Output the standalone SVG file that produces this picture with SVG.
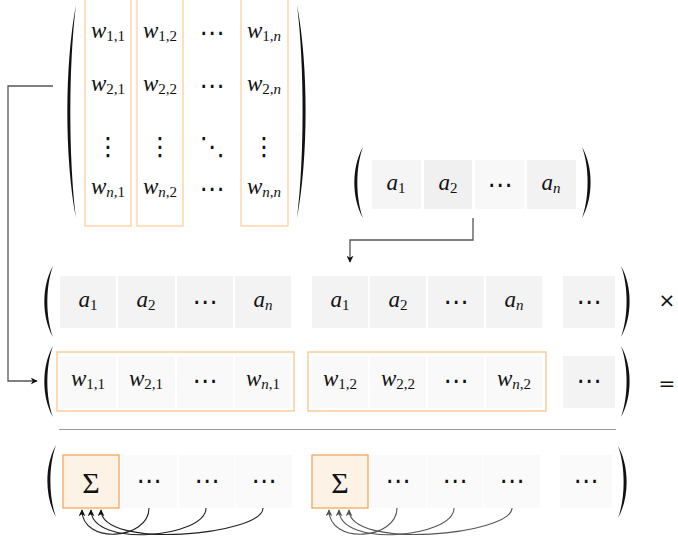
<svg xmlns="http://www.w3.org/2000/svg" xmlns:xlink="http://www.w3.org/1999/xlink" width="678" height="542" viewBox="0 0 678 542">
<style>
.m{font-family:"Liberation Serif","DejaVu Serif",serif;font-style:italic;font-size:23px;fill:#111;text-anchor:middle}
.s{font-style:normal;font-size:15px}
.si{font-style:italic;font-size:15px}
.d{font-family:"DejaVu Sans",sans-serif;font-size:25px;fill:#111;text-anchor:middle}
.op{font-family:"DejaVu Sans",sans-serif;font-size:20px;fill:#111;text-anchor:middle}
.ca{fill:#f3f3f3}
.cw{fill:#f9f9f9}
.cd{fill:#fafafa}
.col{fill:none;stroke:#fdcfa0;stroke-width:1.3}
.ob{fill:none;stroke:#fbc48c;stroke-width:1.3}
.sig{fill:#fdf2e6;stroke:#f5a65a;stroke-width:1.3}
.sg{font-family:"Liberation Serif","DejaVu Serif",serif;font-size:30px;fill:#111;text-anchor:middle}
.conn{fill:none;stroke:#555;stroke-width:1.3}
.c1{fill:none;stroke:#222;stroke-width:1.1}
.c2{fill:none;stroke:#555;stroke-width:1.1}
.par{fill:#111}
</style>
<defs>
<path id="lp" d="M10,0 C-1.5,28 -1.5,72 10,100 C2.5,72 2.5,28 10,0 Z"/>
<marker id="ah" viewBox="0 0 10 10" refX="9" refY="5" markerWidth="7" markerHeight="7" markerUnits="userSpaceOnUse" orient="auto">
<path d="M0,0 L10,5 L0,10 L3,5 Z" fill="#111"/>
</marker>
<marker id="ah2" viewBox="0 0 10 10" refX="9" refY="5" markerWidth="7" markerHeight="7" markerUnits="userSpaceOnUse" orient="auto">
<path d="M0,0 L10,5 L0,10 L3,5 Z" fill="#555"/>
</marker>
</defs>
<rect width="678" height="542" fill="#fff"/>

<g id="matrixW">
<rect class="col" x="85" y="-1" width="46" height="227"/>
<rect class="col" x="137" y="-1" width="46" height="227"/>
<rect class="col" x="241" y="-1" width="47" height="227"/>
<use xlink:href="#lp" class="par" transform="translate(66,5) scale(1,2.13)"/>
<use xlink:href="#lp" class="par" transform="translate(307,5) scale(-1,2.13)"/>
<text class="m" x="108" y="38">w<tspan class="s" dy="3">1,1</tspan></text>
<text class="m" x="160" y="38">w<tspan class="s" dy="3">1,2</tspan></text>
<text class="d" x="212" y="41">⋯</text>
<text class="m" x="264" y="38">w<tspan class="s" dy="3">1,</tspan><tspan class="si">n</tspan></text>
<text class="m" x="108" y="91">w<tspan class="s" dy="3">2,1</tspan></text>
<text class="m" x="160" y="91">w<tspan class="s" dy="3">2,2</tspan></text>
<text class="d" x="212" y="94">⋯</text>
<text class="m" x="264" y="91">w<tspan class="s" dy="3">2,</tspan><tspan class="si">n</tspan></text>
<text class="d" x="108" y="155">⋮</text>
<text class="d" x="160" y="155">⋮</text>
<text class="d" x="212" y="155">⋱</text>
<text class="d" x="264" y="155">⋮</text>
<text class="m" x="108" y="194">w<tspan class="si" dy="3">n</tspan><tspan class="s">,1</tspan></text>
<text class="m" x="160" y="194">w<tspan class="si" dy="3">n</tspan><tspan class="s">,2</tspan></text>
<text class="d" x="212" y="197">⋯</text>
<text class="m" x="264" y="194">w<tspan class="si" dy="3">n</tspan><tspan class="s">,</tspan><tspan class="si">n</tspan></text>
</g>

<g id="vectorA">
<use xlink:href="#lp" class="par" transform="translate(353,147) scale(1,0.71)"/>
<use xlink:href="#lp" class="par" transform="translate(592,147) scale(-1,0.71)"/>
<rect x="372" y="160" width="49" height="49" fill="#f5f5f5"/>
<rect x="424" y="160" width="48" height="49" fill="#f0f0f0"/>
<rect x="475" y="160" width="49" height="49" fill="#f8f8f8"/>
<rect x="527" y="160" width="49" height="49" fill="#f2f2f2"/>
<text class="m" x="396" y="190">a<tspan class="s" dy="3">1</tspan></text>
<text class="m" x="448" y="190">a<tspan class="s" dy="3">2</tspan></text>
<text class="d" x="500" y="193">⋯</text>
<text class="m" x="551" y="190">a<tspan class="si" dy="3">n</tspan></text>
</g>

<g id="rowA">
<use xlink:href="#lp" class="par" transform="translate(43,266) scale(1,0.71)"/>
<use xlink:href="#lp" class="par" transform="translate(631,266) scale(-1,0.71)"/>
<rect class="ca" x="60" y="276" width="56" height="52"/>
<rect class="ca" x="118" y="276" width="57" height="52"/>
<rect class="ca" x="177" y="276" width="56" height="52"/>
<rect class="ca" x="235" y="276" width="56" height="52"/>
<rect class="ca" x="312" y="276" width="56" height="52"/>
<rect class="ca" x="370" y="276" width="56" height="52"/>
<rect class="ca" x="428" y="276" width="56" height="52"/>
<rect class="ca" x="486" y="276" width="56" height="52"/>
<rect class="ca" x="563" y="276" width="52" height="52"/>
<text class="m" x="88" y="307">a<tspan class="s" dy="3">1</tspan></text>
<text class="m" x="146" y="307">a<tspan class="s" dy="3">2</tspan></text>
<text class="d" x="205" y="310">⋯</text>
<text class="m" x="263" y="307">a<tspan class="si" dy="3">n</tspan></text>
<text class="m" x="340" y="307">a<tspan class="s" dy="3">1</tspan></text>
<text class="m" x="398" y="307">a<tspan class="s" dy="3">2</tspan></text>
<text class="d" x="456" y="310">⋯</text>
<text class="m" x="514" y="307">a<tspan class="si" dy="3">n</tspan></text>
<text class="d" x="589" y="310">⋯</text>
<text class="op" x="667" y="307">×</text>
</g>

<g id="rowW">
<use xlink:href="#lp" class="par" transform="translate(43,346) scale(1,0.71)"/>
<use xlink:href="#lp" class="par" transform="translate(631,346) scale(-1,0.71)"/>
<rect class="cw" x="60" y="356" width="56" height="52"/>
<rect class="cw" x="118" y="356" width="57" height="52"/>
<rect class="cw" x="177" y="356" width="56" height="52"/>
<rect class="cw" x="235" y="356" width="56" height="52"/>
<rect class="cw" x="312" y="356" width="56" height="52"/>
<rect class="cw" x="370" y="356" width="56" height="52"/>
<rect class="cw" x="428" y="356" width="56" height="52"/>
<rect class="cw" x="486" y="356" width="56" height="52"/>
<rect class="ca" x="563" y="356" width="52" height="52"/>
<rect class="ob" x="57" y="352" width="237" height="59"/>
<rect class="ob" x="308" y="352" width="238" height="59"/>
<text class="m" x="88" y="386">w<tspan class="s" dy="3">1,1</tspan></text>
<text class="m" x="146" y="386">w<tspan class="s" dy="3">2,1</tspan></text>
<text class="d" x="205" y="389">⋯</text>
<text class="m" x="263" y="386">w<tspan class="si" dy="3">n</tspan><tspan class="s">,1</tspan></text>
<text class="m" x="340" y="386">w<tspan class="s" dy="3">1,2</tspan></text>
<text class="m" x="398" y="386">w<tspan class="s" dy="3">2,2</tspan></text>
<text class="d" x="456" y="389">⋯</text>
<text class="m" x="514" y="386">w<tspan class="si" dy="3">n</tspan><tspan class="s">,2</tspan></text>
<text class="d" x="589" y="389">⋯</text>
<text class="op" x="667" y="390">=</text>
</g>

<line x1="59" y1="429.5" x2="616" y2="429.5" stroke="#999" stroke-width="1.2"/>

<g id="rowSum">
<use xlink:href="#lp" class="par" transform="translate(46,445) scale(1,0.72)"/>
<use xlink:href="#lp" class="par" transform="translate(628,446) scale(-1,0.72)"/>
<rect class="sig" x="63" y="455" width="56" height="53"/>
<rect class="cd" x="121" y="455" width="56" height="53"/>
<rect class="cd" x="179" y="455" width="56" height="53"/>
<rect class="cd" x="236" y="455" width="56" height="53"/>
<rect class="sig" x="312" y="455" width="56" height="53"/>
<rect class="cd" x="370" y="455" width="56" height="53"/>
<rect class="cd" x="427" y="455" width="56" height="53"/>
<rect class="cd" x="484" y="455" width="56" height="53"/>
<rect class="cd" x="560" y="455" width="52" height="53"/>
<text class="sg" x="91" y="493">Σ</text>
<text class="d" x="149" y="489">⋯</text>
<text class="d" x="207" y="489">⋯</text>
<text class="d" x="264" y="489">⋯</text>
<text class="sg" x="340" y="493">Σ</text>
<text class="d" x="398" y="489">⋯</text>
<text class="d" x="455" y="489">⋯</text>
<text class="d" x="512" y="489">⋯</text>
<text class="d" x="586" y="489">⋯</text>
</g>

<g id="connectors">
<polyline class="conn" points="53,86 8,86 8,381 37,381" marker-end="url(#ah)"/>
<polyline class="conn" points="473,218 473,240 350,240 350,262" marker-end="url(#ah)"/>
<path class="c1" d="M149,508 C149,540 82,545 82,510" marker-end="url(#ah)"/>
<path class="c1" d="M206,508 C206,538 91,548 91,510" marker-end="url(#ah)"/>
<path class="c1" d="M263,508 C263,535 101,550 101,510" marker-end="url(#ah)"/>
<path class="c2" d="M397,508 C397,540 329,545 329,510" marker-end="url(#ah2)"/>
<path class="c2" d="M454,508 C454,538 339,548 339,510" marker-end="url(#ah2)"/>
<path class="c2" d="M512,508 C512,535 349,550 349,510" marker-end="url(#ah2)"/>
</g>
</svg>
